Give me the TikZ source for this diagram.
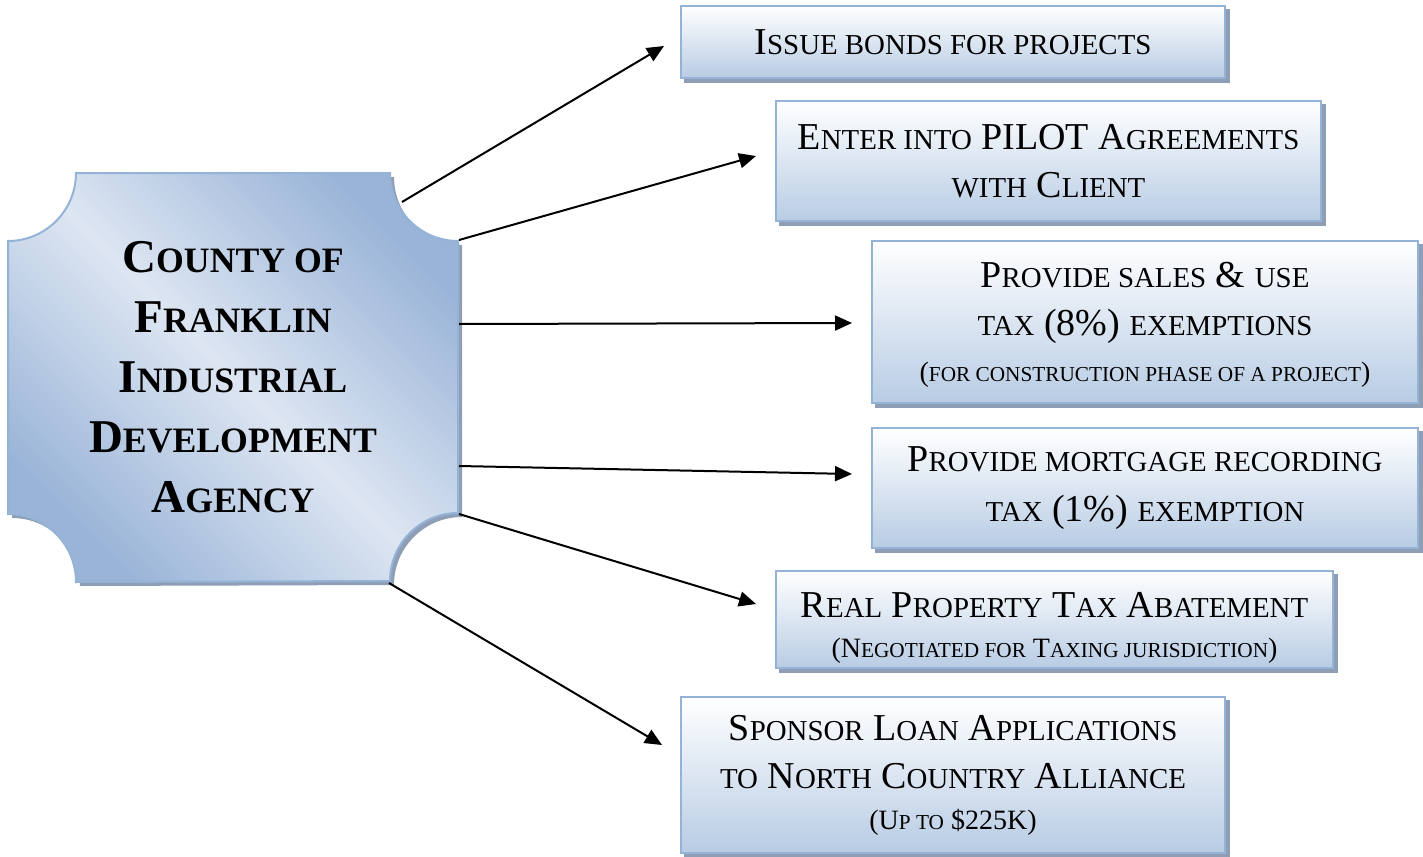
\documentclass[tikz,border=0pt]{standalone}
\usepackage{fontspec}
\setmainfont{Liberation Serif}
\newfontfamily\lcfont[Scale=0.76]{Liberation Serif}
\newcommand\lcs[1]{{\lcfont #1}}
\newcommand\smallline{\fontsize{14}{20}\selectfont}
\usetikzlibrary{arrows.meta,calc,shadows}
\definecolor{edge}{HTML}{95B3D7}
\definecolor{boxlow}{HTML}{B8CCE4}
\definecolor{shad}{HTML}{8E9FB5}
\definecolor{agdark}{HTML}{9AB4D8}
\definecolor{aglight}{HTML}{DDE6F2}

\begin{document}
\begin{tikzpicture}[x=0.5pt, y=0.5pt, >={Triangle[length=8.5pt,width=7.5pt]}, line width=1pt,
    box/.style={draw=edge, line width=1pt, top color=white, bottom color=boxlow,
        align=center, inner sep=0pt, font=\fontsize{19}{24}\selectfont,
        general shadow={fill=shad, draw=shad, shadow xshift=2pt, shadow yshift=-2pt}}]
\useasboundingbox (0,0) rectangle (1423,-856);

\fill[shad, shift={(4,-4)}] (76,-173) -- (390,-173) arc[start angle=180, end angle=270, radius=34pt]
    -- (458,-513) arc[start angle=90, end angle=180, radius=34pt]
    -- (76,-582) arc[start angle=0, end angle=90, radius=34pt]
    -- (8,-241) arc[start angle=270, end angle=360, radius=34pt] -- cycle;
\draw[draw=edge, top color=agdark, bottom color=agdark, middle color=aglight, shading angle=-45]
    (76,-173) -- (390,-173) arc[start angle=180, end angle=270, radius=34pt]
    -- (458,-513) arc[start angle=90, end angle=180, radius=34pt]
    -- (76,-582) arc[start angle=0, end angle=90, radius=34pt]
    -- (8,-241) arc[start angle=270, end angle=360, radius=34pt] -- cycle;
\node[font=\bfseries\fontsize{23.5}{30}\selectfont, align=center, inner sep=0pt,
    minimum width=225pt, minimum height=204.5pt] (agency) at (233,-377.5)
    {C\lcs{OUNTY OF}\\F\lcs{RANKLIN}\\I\lcs{NDUSTRIAL}\\D\lcs{EVELOPMENT}\\A\lcs{GENCY}};

\node[box, minimum width=272pt, minimum height=36pt] (bonds) at (953,-42)
    {I\lcs{SSUE BONDS FOR PROJECTS}};
\node[box, minimum width=272.5pt, minimum height=60pt] (pilot) at (1048.5,-161)
    {E\lcs{NTER INTO} PILOT A\lcs{GREEMENTS}\\\lcs{WITH} C\lcs{LIENT}};
\node[box, minimum width=273pt, minimum height=81pt, text height=62pt] (sales) at (1145,-322)
    {P\lcs{ROVIDE SALES} \& \lcs{USE}\\\lcs{TAX} (8\%) \lcs{EXEMPTIONS}\\[-1pt]
    {\smallline (\lcs{FOR CONSTRUCTION PHASE OF A PROJECT})}};
\node[box, minimum width=273pt, minimum height=60pt] (mortgage) at (1145,-488)
    {P\lcs{ROVIDE MORTGAGE RECORDING}\\[1pt]\lcs{TAX} (1\%) \lcs{EXEMPTION}};
\node[box, minimum width=278.5pt, minimum height=48.5pt, text height=40.5pt] (realprop) at (1054.5,-619.5)
    {R\lcs{EAL} P\lcs{ROPERTY} T\lcs{AX} A\lcs{BATEMENT}\\[-4pt]
    {\smallline (N\lcs{EGOTIATED FOR} T\lcs{AXING JURISDICTION})}};
\node[box, minimum width=272pt, minimum height=78pt] (loan) at (953,-775)
    {S\lcs{PONSOR} L\lcs{OAN} A\lcs{PPLICATIONS}\\\lcs{TO} N\lcs{ORTH} C\lcs{OUNTRY} A\lcs{LLIANCE}\\[-3.5pt]
    {\smallline (U\lcs{P TO} \$225K)}};

\draw[->] ($(agency.north east)+(-57,-30)$) -- ($(bonds.west)+(-16,-4)$);
\draw[->] ($(agency.north east)+(0,-68)$) -- ($(pilot.west)+(-19,5)$);
\draw[->] ($(agency.north east)+(0,-152)$) -- ($(sales.west)+(-19,-1)$);
\draw[->] ($(agency.south east)+(0,117)$) -- ($(mortgage.west)+(-19,14)$);
\draw[->] ($(agency.south east)+(0,69)$) -- ($(realprop.west)+(-19,15.5)$);
\draw[->] ($(agency.south east)+(-70,0)$) -- ($(loan.west)+(-18,30)$);

\end{tikzpicture}
\end{document}
